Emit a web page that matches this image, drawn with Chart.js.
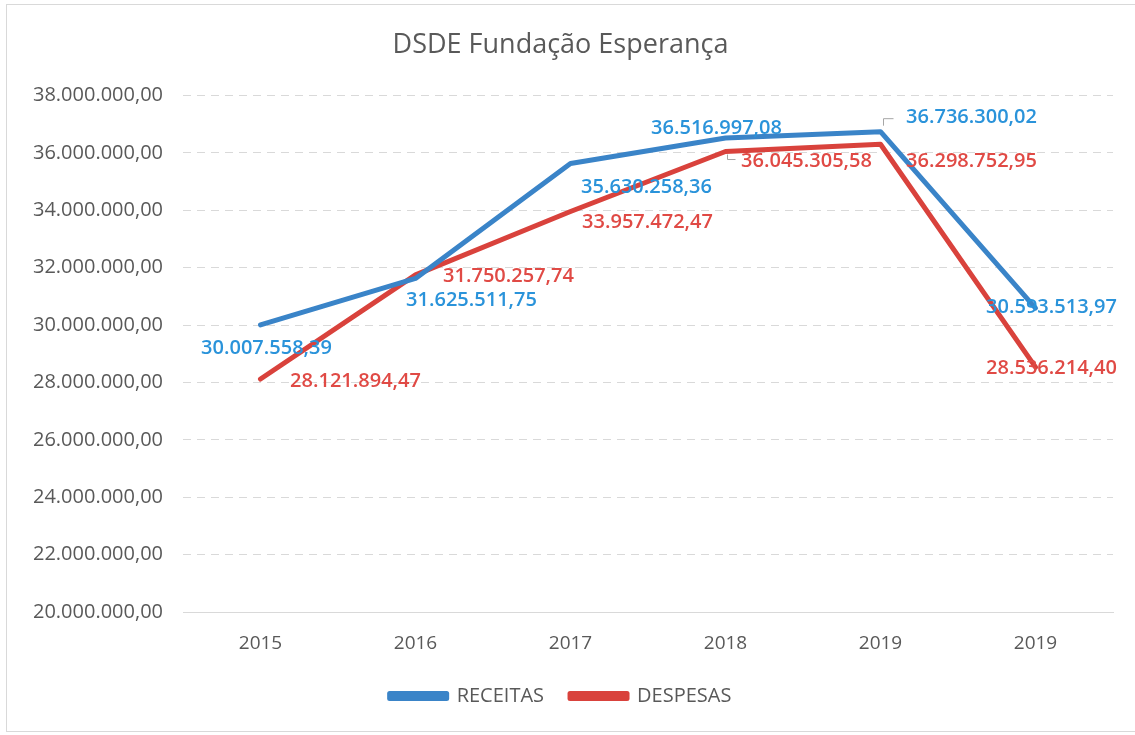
<!DOCTYPE html>
<html>
<head>
<meta charset="utf-8">
<script src="https://cdn.jsdelivr.net/npm/chart.js@4.4.1/dist/chart.umd.min.js"></script>
<style>
  html, body { margin: 0; padding: 0; background: #fff; }
  #frame { position: absolute; left: 6px; top: 4px; width: 1135px; height: 728px; border: 1px solid #d9d9d9; box-sizing: border-box; }
  #wrap { position: absolute; left: 0; top: 0; width: 1135px; height: 735px; }
</style>
</head>
<body>
<div id="frame"></div>
<div id="wrap"><canvas id="myChart"></canvas></div>
<script>
const categories = ['2015', '2016', '2017', '2018', '2019', '2019'];
const receitas = [30007558.39, 31625511.75, 35630258.36, 36516997.08, 36736300.02, 30593513.97];
const despesas = [28121894.47, 31750257.74, 33957472.47, 36045305.58, 36298752.95, 28536214.40];
const yMin = 20000000;
const yMax = 38000000;
const yStep = 2000000;

function fmtBR(v) {
  var parts = v.toFixed(2).split('.');
  var intPart = parts[0].replace(/\B(?=(\d{3})+(?!\d))/g, '.');
  return intPart + ',' + parts[1];
}

// label offsets from each point (centre of text), like Excel placed them
var labelOffsets = [
  [[6, 23], [56, 22], [76, 24], [-9, -10], [91, -14], [16, -1]],
  [[95, 2], [93, 1], [77, 11], [81, 10], [91, 17], [16, 1]]
];
var labelColors = ['#2a93da', '#e04a45'];

var dataLabels = {
  id: 'dataLabels',
  afterDatasetsDraw: function(chart) {
    var c = chart.ctx;
    c.save();
    c.font = '600 20px "Open Sans"';
    c.textAlign = 'center';
    c.textBaseline = 'middle';
    // little leader lines
    c.strokeStyle = '#a6a6a6';
    c.lineWidth = 1;
    var p = chart.getDatasetMeta(0).data[4];
    c.beginPath();
    c.moveTo(p.x + 3, p.y - 6);
    c.lineTo(p.x + 3, p.y - 13);
    c.lineTo(p.x + 13, p.y - 13);
    c.stroke();
    var q = chart.getDatasetMeta(1).data[3];
    c.beginPath();
    c.moveTo(q.x + 2, q.y + 3);
    c.lineTo(q.x + 2, q.y + 8);
    c.lineTo(q.x + 10, q.y + 8);
    c.stroke();
    chart.data.datasets.forEach(function(ds, i) {
      var meta = chart.getDatasetMeta(i);
      c.fillStyle = labelColors[i];
      meta.data.forEach(function(pt, j) {
        var off = labelOffsets[i][j];
        c.fillText(fmtBR(ds.data[j]), pt.x + off[0], pt.y + off[1]);
      });
    });
    c.restore();
  }
};

// nudge the legend a bit higher without moving the plot area
var legendNudge = {
  id: 'legendNudge',
  afterLayout: function(chart) {
    if (chart.legend) {
      chart.legend.top -= 7;
      chart.legend.bottom -= 7;
    }
  }
};

window.onload = function() {
  var ctx = document.getElementById('myChart').getContext('2d');
  Chart.defaults.font.family = '"Open Sans", sans-serif';
  Chart.defaults.color = '#595959';

  new Chart(ctx, {
    type: 'line',
    data: {
      labels: categories,
      datasets: [{
        label: 'RECEITAS',
        data: receitas,
        borderColor: '#3a84c8',
        backgroundColor: '#3a84c8',
        borderWidth: 5,
        pointRadius: 0,
        tension: 0,
        borderCapStyle: 'round',
        borderJoinStyle: 'round'
      }, {
        label: 'DESPESAS',
        data: despesas,
        borderColor: '#d9423c',
        backgroundColor: '#d9423c',
        borderWidth: 5,
        pointRadius: 0,
        tension: 0,
        borderCapStyle: 'round',
        borderJoinStyle: 'round'
      }]
    },
    options: {
      responsive: true,
      maintainAspectRatio: false,
      animation: false,
      layout: { padding: { left: 8, right: 22, top: 0, bottom: 12 } },
      plugins: {
        title: {
          display: true,
          text: 'DSDE Fundação Esperança',
          font: { size: 27, weight: 'normal' },
          color: '#595959',
          padding: { top: 29, bottom: 34 }
        },
        legend: {
          position: 'bottom',
          labels: {
            boxWidth: 57,
            boxHeight: 5,
            font: { size: 20 },
            color: '#595959',
            padding: 26
          }
        },
        tooltip: { enabled: false }
      },
      scales: {
        x: {
          offset: true,
          grid: { display: false },
          border: { display: true, color: '#d9d9d9' },
          ticks: { font: { size: 19 }, color: '#595959', padding: 12 }
        },
        y: {
          min: yMin,
          max: yMax,
          grid: { color: '#d9d9d9', drawTicks: false },
          border: { display: false, dash: [8, 6] },
          ticks: {
            stepSize: yStep,
            font: { size: 20 },
            color: '#595959',
            padding: 20,
            callback: function(v) { return fmtBR(v); }
          },
          afterFit: function(scale) { scale.width = 175; }
        }
      }
    },
    plugins: [dataLabels, legendNudge]
  });
};
</script>
</body>
</html>
